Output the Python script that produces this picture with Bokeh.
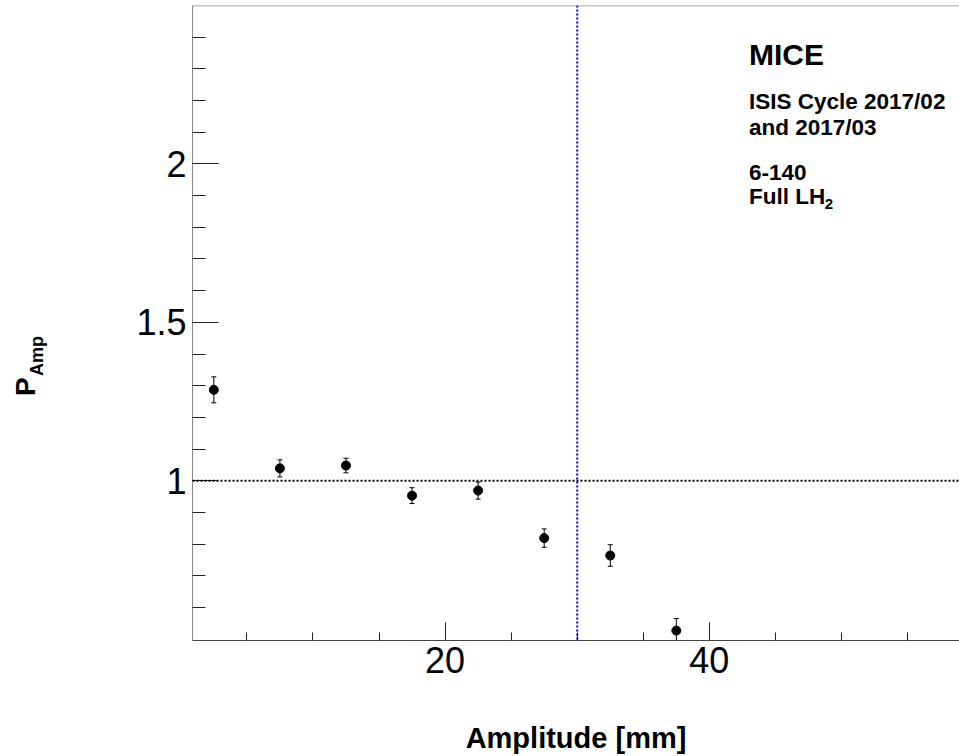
import numpy as np
from bokeh.plotting import figure
from bokeh.layouts import row
from bokeh.models import (Range1d, FixedTicker, Span, Label, Whisker, TeeHead,
                          ColumnDataSource, NumeralTickFormatter)
from bokeh.embed import file_html
from bokeh.resources import INLINE

# ---- data ----
amplitude = [2.5, 7.5, 12.5, 17.5, 22.5, 27.5, 32.5, 37.5]
p_amp = [1.287, 1.039, 1.048, 0.953, 0.969, 0.819, 0.764, 0.527]
p_err = [0.041, 0.027, 0.023, 0.025, 0.027, 0.029, 0.034, 0.038]

x_major_ticks = [20, 40]
x_minor_ticks = [5, 10, 15, 25, 30, 35, 45, 50, 55]
y_major_ticks = [1, 1.5, 2]
y_minor_ticks = [round(v, 1) for v in np.arange(0.6, 2.45, 0.1)]

ref_level = 1.0
cut_amplitude = 30.0

FONT = "Liberation Sans"

y0, y1 = 0.4957, 2.5002
x0, x1 = 0.885, 58.93

SIDE_W = 60

# ---- narrow strip holding the rotated y-axis title (P with subscript Amp) ----
side = figure(width=SIDE_W, height=756, output_backend="svg", toolbar_location=None,
              x_range=Range1d(0, SIDE_W), y_range=Range1d(641, 5),
              x_axis_location=None, y_axis_location=None,
              min_border=0, outline_line_color=None,
              background_fill_color="white", border_fill_color="white")
side.grid.visible = False
side.add_layout(Label(x=25, y=396, text="P", angle=np.pi / 2, text_font=FONT,
                      text_font_size="28px", text_font_style="bold",
                      text_color="black", text_align="left",
                      text_baseline="alphabetic"))
side.add_layout(Label(x=36, y=376, text="Amp", angle=np.pi / 2, text_font=FONT,
                      text_font_size="18px", text_font_style="bold",
                      text_color="black", text_align="left",
                      text_baseline="alphabetic"))

# ---- main plot ----
p = figure(width=959 - SIDE_W, height=756, output_backend="svg", toolbar_location=None,
           x_range=Range1d(x0, x1), y_range=Range1d(y0, y1),
           min_border_left=192 - SIDE_W, min_border_right=0, min_border_top=5,
           min_border_bottom=115, background_fill_color="white",
           border_fill_color="white", outline_line_color=None)
p.xgrid.visible = False
p.ygrid.visible = False

for ax in (p.xaxis[0], p.yaxis[0]):
    ax.major_label_text_font = FONT
    ax.major_label_text_font_size = "36px"
    ax.major_label_text_color = "black"
    ax.major_tick_out = 0
    ax.minor_tick_out = 0
    ax.major_tick_line_color = "#222222"
    ax.minor_tick_line_color = "#222222"
    ax.formatter = NumeralTickFormatter(format="0.[0]")

p.xaxis.ticker = FixedTicker(ticks=x_major_ticks, minor_ticks=x_minor_ticks)
p.yaxis.ticker = FixedTicker(ticks=y_major_ticks, minor_ticks=y_minor_ticks)
p.xaxis.major_tick_in = 18
p.xaxis.minor_tick_in = 8
p.yaxis.major_tick_in = 26
p.yaxis.minor_tick_in = 13
p.xaxis.axis_line_color = "#444444"
p.yaxis.axis_line_color = "#888888"
p.xaxis.major_label_standoff = 6
p.yaxis.major_label_standoff = 6

p.xaxis.axis_label = "Amplitude [mm]"
p.xaxis.axis_label_text_font = FONT
p.xaxis.axis_label_text_font_size = "29px"
p.xaxis.axis_label_text_font_style = "bold"
p.xaxis.axis_label_text_color = "black"
p.xaxis.axis_label_standoff = 46

# top frame border
p.add_layout(Span(location=y1, dimension="width", line_color="#888888", line_width=1.5))

# reference lines
p.add_layout(Span(location=ref_level, dimension="width", line_color="black",
                  line_width=2, line_dash="2 2"))
p.add_layout(Span(location=cut_amplitude, dimension="height", line_color="blue",
                  line_width=2, line_dash="2 2"))

# data with error bars
src = ColumnDataSource(dict(
    x=amplitude, y=p_amp,
    upper=[v + e for v, e in zip(p_amp, p_err)],
    lower=[v - e for v, e in zip(p_amp, p_err)],
))
p.add_layout(Whisker(source=src, base="x", upper="upper", lower="lower",
                     line_color="black", line_width=1,
                     upper_head=TeeHead(size=5, line_color="black", line_width=1),
                     lower_head=TeeHead(size=5, line_color="black", line_width=1)))
p.scatter("x", "y", source=src, size=9, color="black")

# text block (top right)
tx = 43.0
dy = 0.0284
def lab(x, y, text, size):
    p.add_layout(Label(x=x, y=y + dy, text=text, text_font=FONT,
                       text_font_size=size, text_color="black",
                       text_font_style="bold",
                       text_align="left", text_baseline="alphabetic"))

lab(tx, 2.3165, "MICE", "30px")
lab(tx, 2.1693, "ISIS Cycle 2017/02", "22.5px")
lab(tx, 2.0873, "and 2017/03", "22.5px")
lab(tx, 1.9433, "6-140", "22.5px")
lab(tx, 1.8699, "Full LH", "22.5px")
lab(48.74, 1.8447, "2", "15px")

layout = row(side, p)
open("out.html", "w").write(file_html(layout, INLINE))
